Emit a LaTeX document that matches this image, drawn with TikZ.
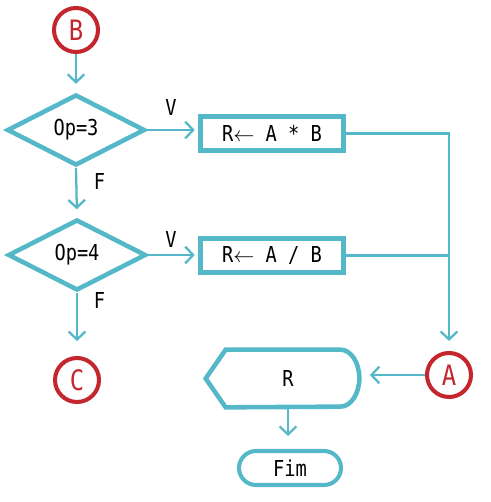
\documentclass[tikz,border=0pt]{standalone}
\usepackage{fontspec}
\newfontfamily\flowfont{DejaVu Sans Mono}[FakeStretch=0.85]
\usetikzlibrary{arrows.meta,shapes.geometric,shapes.misc}
\definecolor{flowteal}{HTML}{55B8C8}
\definecolor{flowred}{HTML}{C4262E}

\begin{document}
\begin{tikzpicture}[
  x=0.02cm, y=0.02cm,
  font=\flowfont\fontsize{12.5}{14}\selectfont,
  dec/.style={draw=flowteal, line width=2.6pt, diamond, aspect=2,
              minimum width=2.76cm, minimum height=1.42cm, inner sep=0pt},
  box/.style={draw=flowteal, line width=2.6pt, rectangle, minimum width=2.86cm,
              minimum height=0.68cm, inner sep=0pt},
  conn/.style={circle, draw=flowred, line width=2.3pt, minimum size=0.88cm,
               inner sep=0pt, text=flowred,
               font=\flowfont\fontsize{16}{18}\selectfont},
  term/.style={draw=flowteal, line width=2.3pt, rounded rectangle,
               minimum width=2.04cm, minimum height=0.68cm, inner sep=0pt},
  disp/.style={minimum width=2.84cm, minimum height=1.14cm, inner sep=0pt},
  wire/.style={draw=flowteal, line width=1.3pt},
  arr/.style={wire, -{Straight Barb[length=4.5pt,width=9.5pt]}},
  lbl/.style={inner sep=0pt},
]
  \useasboundingbox (0,0) rectangle (490,502);

  % --- Connectors and decisions ---
  \node[conn] (B) at (76,472) {B};
  \node[dec] (op3) at (76,372) {Op=3};
  \node[dec] (op4) at (77,247) {Op=4};
  \node[conn] (C) at (77,122) {C};

  % --- Processes ---
  \node[box] (mul) at (272,368.5) {R$\leftarrow$ A * B};
  \node[box] (div) at (272,246.5) {R$\leftarrow$ A / B};

  % --- Output ---
  \node[conn] (A) at (449,127) {A};
  \node[disp] (out) at (288,123.5) {R};
  \draw[wire, line width=2.6pt]
    ([xshift=-0.22cm]out.west) -- ([xshift=0.18cm]out.north west)
    -- ([xshift=-0.38cm]out.north east)
    arc[start angle=90, end angle=-90, x radius=0.38cm, y radius=0.57cm]
    -- ([xshift=0.18cm]out.south west) -- cycle;
  \node[term] (fim) at (290,34) {Fim};

  % --- Branch labels ---
  \node[lbl] (v1) at (171,394.5) {V};
  \node[lbl] (f1) at (99.5,320.5) {F};
  \node[lbl] (v2) at (171,262) {V};
  \node[lbl] (f2) at (99.5,201) {F};

  % --- Flow ---
  \draw[arr, shorten >=4.8pt] (B) -- (op3.north);
  \draw[arr, shorten >=2pt] (op3.east) -- (op3.east -| mul.west);
  \draw[arr, shorten >=4.5pt] (op3.south) -- (op4.north);
  \draw[arr, shorten >=2pt] (op4.east) -- (op4.east -| div.west);
  \draw[arr, shorten >=8.5pt] (op4.south) -- (C.north);
  \draw[arr, shorten >=5.7pt] (mul.east) -| (A.north);
  \draw[wire] (div.east) -- (div.east -| A.north);
  \draw[arr, shorten >=6pt] (A.west) -- (A.west -| out.east);
  \draw[arr, shorten >=7.4pt] (out.south) -- (out.south |- fim.north);

\end{tikzpicture}
\end{document}
